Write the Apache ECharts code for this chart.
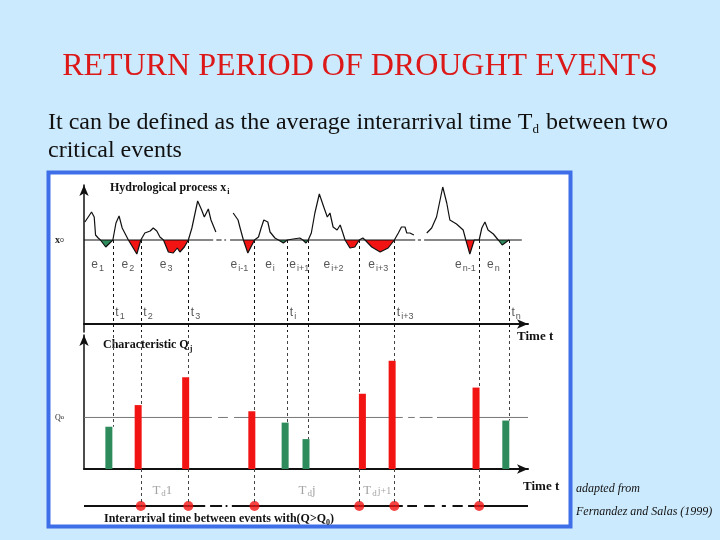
<!DOCTYPE html>
<html><head><meta charset="utf-8">
<script src="https://cdn.jsdelivr.net/npm/echarts@6/dist/echarts.min.js"></script>
<style>html,body{margin:0;padding:0;background:#cceafd;}#c{width:720px;height:540px;}</style>
</head><body><div id="c"></div>
<script>
// ---------- data ----------
// end time of each drought event (dashed lines)
const eventTimes = [6.5, 12.8, 23.5, 38.4, 45.8, 50.5, 62.0, 69.9, 89.0, 95.7];
// event subscripts and label centres
const eventNames = ['1', '2', '3', 'i-1', 'i', 'i+1', 'i+2', 'i+3', 'n-1', 'n'];
const eventLabelTimes = [3.2, 10.0, 18.6, 35.1, 42.0, 48.6, 56.3, 66.4, 86.0, 92.3];
// characteristic Q of each event
const barTimes = [5.6, 12.2, 22.9, 37.8, 45.3, 50.0, 62.7, 69.4, 88.3, 95.0];
const barQ = [41, 62, 89, 56, 45, 29, 73, 105, 79, 47];
const Q0 = 50;
const X0 = 84;
// time tick labels t_k (event index, subscript)
const tTickEvents = [0, 1, 2, 4, 7, 9];
const tTickNames = ['1', '2', '3', 'i', 'i+3', 'n'];
// interarrival labels T_d
const tdLabelTimes = [15.3, 48.2, 62.8];
const tdNames = ['1', 'j', 'j+1'];
// hydrological process x_t, three shown stretches [t, x]
const seg1 = [[0.2,102],[0.8,106],[1.7,112],[2.3,107],[2.6,89],[3.2,86],[3.7,84],[4.9,77],[6.5,84],[7.2,101],[7.9,108],[8.6,96],[10.0,84],[11.9,70],[12.8,84],[13.7,91],[14.9,93],[15.6,96],[16.4,93],[17.1,87],[17.9,84],[19.0,72],[20.1,71],[21.0,76],[21.6,72],[22.6,77],[23.5,84],[24.3,96],[25.6,123],[26.5,114],[27.1,107],[28.0,115],[28.6,104],[29.7,92]];
const seg2 = [[33.6,111],[34.7,104],[35.1,97],[35.9,84],[36.9,71],[38.4,84],[39.3,87],[39.9,96],[40.5,104],[41.4,102],[41.9,92],[43.0,86],[43.8,84],[44.9,81],[45.8,84],[47.1,85],[48.6,86],[49.3,84],[50.0,81],[50.5,84],[51.2,91],[52.0,111],[53.0,130],[54.0,117],[54.8,107],[55.4,111],[56.1,97],[57.0,94],[57.7,99],[58.3,91],[58.8,84],[59.9,76],[61.0,77],[62.0,84],[62.8,86],[63.3,84],[64.8,77],[66.7,72],[68.5,76],[69.9,84],[70.8,91],[71.5,97],[72.3,97],[72.7,91],[73.4,91],[74.3,89]];
const seg3 = [[77.2,91],[78.3,96],[79.4,107],[80.8,137],[81.7,121],[82.4,104],[83.9,100],[85.4,94],[86.0,84],[86.9,70],[87.9,84],[89.0,84],[89.6,96],[90.3,102],[91.0,94],[92.2,90],[93.3,84],[94.2,79],[95.7,84]];
// drawn stretches of the broken threshold / time lines [from, to]
const x0Stretches = [[0,29.1],[29.8,31.0],[31.6,32.0],[32.9,74.6],[75.2,75.9],[76.6,98.6]];
const q0Stretches = [[0,28.8],[30.2,32.4],[33.8,71.8],[73,74.5],[75.6,78.5],[79.5,100]];
const timelineStretches = [[0,27.3],[28.4,31.1],[31.9,32.3],[33.3,71.8],[72.8,75],[76.6,79],[80.6,81.5],[83,85.3],[86.5,100]];

// ---------- helpers ----------
const RED = '#f21313', GREEN = '#2e8b5c';
const SERIF = '"Liberation Serif","Times New Roman",serif';
const SANS = '"Liberation Sans",Arial,sans-serif';
const isRed = k => barQ[k] > Q0;
function joinSegs(segs) {
  const out = [];
  segs.forEach((s, i) => { if (i) out.push([s[0][0], null]); s.forEach(p => out.push(p)); });
  return out;
}
const flat = (stretches, y) => joinSegs(stretches.map(([a, b]) => [[a, y], [b, y]]));
const curve = joinSegs([seg1, seg2, seg3]);
const eventOf = t => eventTimes.findIndex(e => e >= t - 0.05);
function fillData(wantRed) {
  return curve.map(p => {
    if (p[1] === null) return p;
    const k = eventOf(p[0]);
    const mine = k >= 0 && isRed(k) === wantRed;
    return [p[0], mine ? Math.min(p[1], X0) : X0];
  });
}
const dashStyle = (c) => ({ type: [3, 3], color: c, width: 1 });
const mark = (lines, c) => ({ silent: true, symbol: ['none', 'none'], label: { show: false },
  lineStyle: dashStyle(c), data: lines, animation: false });
const subRich = (size, col, fam, drop) => ({ fontSize: size, color: col, fontFamily: fam, verticalAlign: 'top', padding: [drop, 0, 0, 1] });
const HIDDEN = { color: 'rgba(0,0,0,0)' };
const LBL = '#2a2a2a';

const TOP_YMIN = -8;
const option = {
  backgroundColor: '#cceafd',
  animation: false,
  title: { text: 'RETURN PERIOD OF DROUGHT EVENTS', left: 'center', top: 46,
    textStyle: { color: '#dc1818', fontFamily: SERIF, fontWeight: 'normal', fontSize: 32 } },
  grid: [
    { left: 84, top: 185, width: 444, height: 147 },
    { left: 84, top: 335, width: 444, height: 134 },
    { left: 84, top: 469, width: 444, height: 37 }
  ],
  xAxis: [0, 1, 2].map(i => ({
    type: 'value', gridIndex: i, min: 0, max: 100, show: i < 2,
    axisLine: { show: true, onZero: true, symbol: ['none', 'arrow'], symbolSize: [7, 11],
      lineStyle: { color: '#111', width: 2 } },
    axisTick: { show: false }, axisLabel: { show: false }, splitLine: { show: false }
  })),
  yAxis: [
    { type: 'value', gridIndex: 0, min: TOP_YMIN, max: 139,
      axisLine: { show: true, symbol: ['none', 'arrow'], symbolSize: [7, 11], lineStyle: { color: '#111', width: 1.5 } },
      axisTick: { show: false }, splitLine: { show: false },
      axisLabel: { customValues: [X0], margin: 20, formatter: () => '{a|x}{b|o}',
        rich: { a: { fontSize: 10, fontWeight: 'bold', fontFamily: SERIF, color: '#222' },
                b: { fontSize: 7, fontFamily: SANS, color: '#222' } } } },
    { type: 'value', gridIndex: 1, min: 0, max: 130,
      axisLine: { show: true, symbol: ['none', 'arrow'], symbolSize: [7, 11], lineStyle: { color: '#111', width: 1.5 } },
      axisTick: { show: false }, splitLine: { show: false },
      axisLabel: { customValues: [Q0], margin: 20, formatter: () => '{a|Q}{b|o}',
        rich: { a: { fontSize: 8, fontFamily: SERIF, color: '#222' },
                b: { fontSize: 6, fontFamily: SANS, color: '#222' } } } },
    { type: 'value', gridIndex: 2, min: 0, max: 1, show: false }
  ],
  series: [
    { type: 'line', name: 'red deficits', xAxisIndex: 0, yAxisIndex: 0, data: fillData(true), symbol: 'none',
      lineStyle: { width: 0, opacity: 0 }, areaStyle: { color: RED, opacity: 1, origin: X0 }, z: 3, silent: true },
    { type: 'line', name: 'green deficits', xAxisIndex: 0, yAxisIndex: 0, data: fillData(false), symbol: 'none',
      lineStyle: { width: 0, opacity: 0 }, areaStyle: { color: GREEN, opacity: 1, origin: X0 }, z: 3, silent: true },
    { type: 'line', name: 'x0', xAxisIndex: 0, yAxisIndex: 0, data: flat(x0Stretches, X0), symbol: 'none',
      lineStyle: { color: '#111', width: 1.2 }, z: 4, silent: true },
    { type: 'line', name: 'process', xAxisIndex: 0, yAxisIndex: 0, data: curve, symbol: 'none',
      lineStyle: { color: '#111', width: 1.2 }, z: 5, silent: true,
      markLine: mark(eventTimes.map(t => [{ coord: [t, X0] }, { coord: [t, TOP_YMIN] }]), '#111') },
    { type: 'scatter', xAxisIndex: 0, yAxisIndex: 0, symbolSize: 1, itemStyle: HIDDEN, silent: true, z: 6,
      data: eventLabelTimes.map((t, k) => ({ value: [t, 59], name: eventNames[k] })),
      label: { show: true, position: [0, 0], align: 'center', verticalAlign: 'middle', color: LBL,
        formatter: p => '{m|e}{s|' + p.name + '}',
        rich: { m: { fontSize: 12, color: LBL, fontFamily: SANS }, s: subRich(9, LBL, SANS, 8) } } },
    { type: 'scatter', xAxisIndex: 0, yAxisIndex: 0, symbolSize: 1, itemStyle: HIDDEN, silent: true, z: 6,
      data: tTickEvents.map((k, i) => ({ value: [eventTimes[k], 11], name: tTickNames[i] })),
      label: { show: true, position: 'right', distance: 2, color: LBL, formatter: p => '{m|t}{s|' + p.name + '}',
        rich: { m: { fontSize: 12, color: LBL, fontFamily: SANS }, s: subRich(9, LBL, SANS, 8) } } },
    { type: 'line', name: 'Q0', xAxisIndex: 1, yAxisIndex: 1, data: flat(q0Stretches, Q0), symbol: 'none',
      lineStyle: { color: '#777', width: 1 }, z: 1, silent: true },
    { type: 'bar', name: 'Q', xAxisIndex: 1, yAxisIndex: 1, barWidth: 7, silent: true,
      data: barTimes.map((t, i) => ({ value: [t, barQ[i]], itemStyle: { color: isRed(i) ? RED : GREEN } })),
      markLine: mark(eventTimes.map((t, k) => [{ coord: [t, 130] }, { coord: [t, barQ[k]] }]), '#444') },
    { type: 'line', name: 'timeline', xAxisIndex: 2, yAxisIndex: 2, data: flat(timelineStretches, 0), symbol: 'none',
      lineStyle: { color: '#111', width: 2 }, z: 2, silent: true },
    { type: 'scatter', name: 'critical events', xAxisIndex: 2, yAxisIndex: 2, symbolSize: 10, silent: true, z: 4,
      itemStyle: { color: RED },
      data: eventTimes.filter((t, k) => isRed(k)).map(t => [t, 0]),
      markLine: mark(eventTimes.filter((t, k) => isRed(k)).map(t => [{ coord: [t, 1] }, { coord: [t, 0] }]), '#444') },
    { type: 'scatter', xAxisIndex: 2, yAxisIndex: 2, symbolSize: 1, itemStyle: HIDDEN, silent: true, z: 6,
      data: tdLabelTimes.map((t, i) => ({ value: [t, 0.43], name: tdNames[i] })),
      label: { show: true, position: 'right', distance: 0, color: '#8c8c8c',
        formatter: p => '{T|T}{d|d}' + (p.name.length > 1 ? '{s|' + p.name + '}' : '{T|' + p.name + '}'),
        rich: { T: { fontSize: 13, color: '#8c8c8c', fontFamily: SERIF },
                d: subRich(9, '#8c8c8c', SERIF, 8), s: subRich(10, '#8c8c8c', SERIF, 5) } } }
  ],
  graphic: [
    { type: 'rect', z: -1, silent: true, shape: { x: 48.5, y: 172.5, width: 522, height: 354 },
      style: { fill: '#ffffff', stroke: '#3f6fe8', lineWidth: 4 } },
    { type: 'text', x: 48, y: 110, silent: true,
      style: { text: 'It can be defined as the average interarrival time T{d|d} between two',
        font: '24px ' + SERIF, fill: '#111',
        rich: { d: { fontSize: 13, fontFamily: SERIF, fill: '#111', verticalAlign: 'top', padding: [13, 1, 0, 0] } } } },
    { type: 'text', x: 48, y: 139, silent: true,
      style: { text: 'critical events', font: '24px ' + SERIF, fill: '#111' } },
    { type: 'text', x: 110, y: 180, silent: true,
      style: { text: 'Hydrological process x{s|i}', font: 'bold 12px ' + SERIF, fill: '#111',
        rich: { s: { fontSize: 8, fontWeight: 'bold', fontFamily: SERIF, verticalAlign: 'top', padding: [8, 0, 0, 1] } } } },
    { type: 'text', x: 103, y: 337, silent: true,
      style: { text: 'Characteristic Q{s|j}', font: 'bold 12px ' + SERIF, fill: '#111',
        rich: { s: { fontSize: 8, fontWeight: 'bold', fontFamily: SERIF, verticalAlign: 'top', padding: [8, 0, 0, 1] } } } },
    { type: 'text', x: 517, y: 330, silent: true,
      style: { text: 'Time t', font: 'bold 13px ' + SERIF, fill: '#111' } },
    { type: 'text', x: 523, y: 480, silent: true,
      style: { text: 'Time t', font: 'bold 13px ' + SERIF, fill: '#111' } },
    { type: 'text', x: 104, y: 511, silent: true,
      style: { text: 'Interarrival time between events with(Q>Q{s|0})', font: 'bold 12px ' + SERIF, fill: '#111',
        rich: { s: { fontSize: 8, fontWeight: 'bold', fontFamily: SERIF, verticalAlign: 'top', padding: [8, 0, 0, 0] } } } },
    { type: 'text', x: 576, y: 483, silent: true,
      style: { text: 'adapted from', font: 'italic 12px ' + SERIF, fill: '#111' } },
    { type: 'text', x: 576, y: 506, silent: true,
      style: { text: 'Fernandez and Salas (1999)', font: 'italic 12px ' + SERIF, fill: '#111' } }
  ]
};
const chart = echarts.init(document.getElementById('c'));
chart.setOption(option);
</script></body></html>
